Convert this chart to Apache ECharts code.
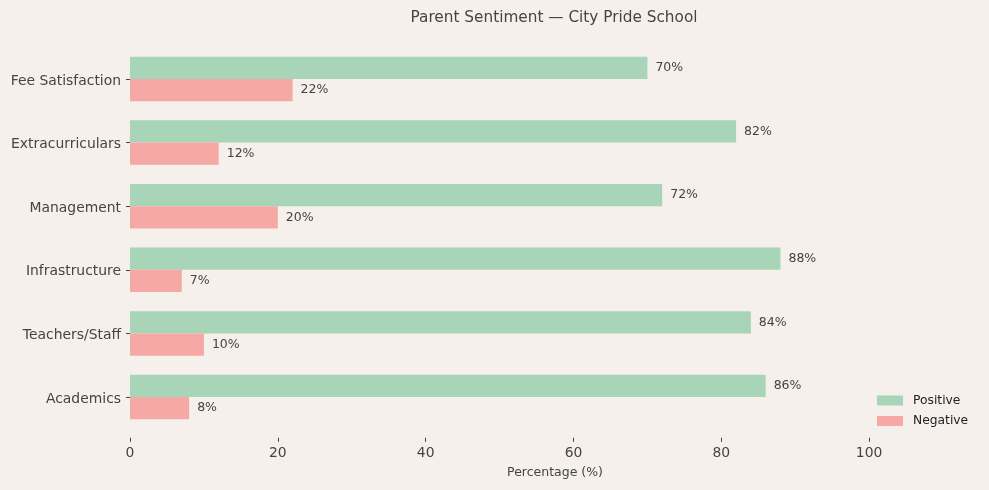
<!DOCTYPE html>
<html><head><meta charset="utf-8">
<script src="https://cdn.jsdelivr.net/npm/echarts@6/dist/echarts.min.js"></script>
<style>html,body{margin:0;padding:0;background:#f5f0ec;}#c{width:989px;height:490px;}</style>
</head><body><div id="c"></div>
<script>
const categories = ['Academics', 'Teachers/Staff', 'Infrastructure', 'Management', 'Extracurriculars', 'Fee Satisfaction'];
const positive = [86, 84, 88, 72, 82, 70];
const negative = [8, 10, 7, 20, 12, 22];
const xTicks = [0, 20, 40, 60, 80, 100];

const chart = echarts.init(document.getElementById('c'), null, {renderer: 'canvas'});
const font = 'DejaVu Sans';
const labelCfg = {show: true, position: 'right', distance: 8, formatter: '{c}%', fontSize: 12.5, color: '#444', fontFamily: font};
chart.setOption({
  backgroundColor: '#f5f0ec',
  animation: false,
  title: {text: 'Parent Sentiment — City Pride School', left: 549, textAlign: 'center', top: 6,
    textStyle: {fontSize: 15.3, fontWeight: 'normal', color: '#444', fontFamily: font}},
  legend: {orient: 'vertical', left: 872, top: 389.5, itemWidth: 26, itemHeight: 10, itemGap: 8.5,
    icon: 'rect', textStyle: {fontSize: 12.3, color: '#222', fontFamily: font, padding: [0,0,0,5]},
    data: ['Positive', 'Negative']},
  grid: {left: 130, right: 9, top: 47.2, height: 381.6, containLabel: false},
  xAxis: {type: 'value', min: 0, max: 115, offset: 9,
    axisLine: {show: false}, splitLine: {show: false},
    axisTick: {show: true, length: 4, customValues: xTicks, lineStyle: {color: '#444'}},
    axisLabel: {customValues: xTicks, margin: 8.5, fontSize: 13.9, color: '#444', fontFamily: font},
    name: 'Percentage (%)', nameLocation: 'middle', nameGap: 28,
    nameTextStyle: {fontSize: 12.5, color: '#444', fontFamily: font}},
  yAxis: {type: 'category', data: categories,
    axisLine: {show: false}, splitLine: {show: false},
    axisTick: {show: true, length: 4, alignWithLabel: true, lineStyle: {color: '#444'}},
    axisLabel: {margin: 9, color: '#444', fontFamily: font,
      formatter: v => '{a|' + v + '}',
      rich: {a: {fontSize: 13.9, color: '#444', fontFamily: font, padding: [4, 0, 0, 0]}}}},
  series: [
    {name: 'Positive', type: 'bar', data: positive, barWidth: '35%', barGap: '0%',
      itemStyle: {color: '#a8d4b8'}, label: labelCfg},
    {name: 'Negative', type: 'bar', data: negative, barWidth: '35%', barGap: '0%',
      itemStyle: {color: '#f6a8a4'}, label: labelCfg}
  ]
});
</script></body></html>
